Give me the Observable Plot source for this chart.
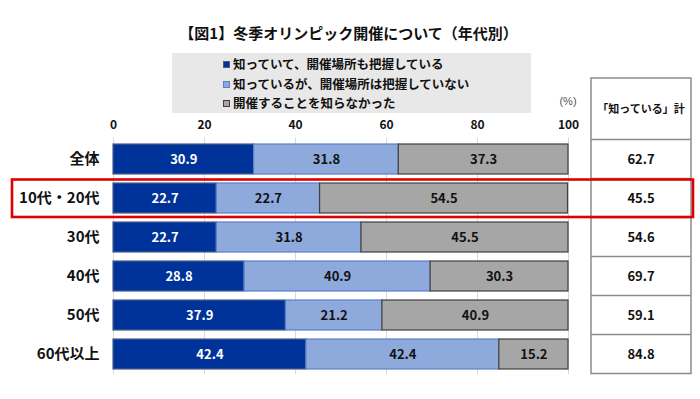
<!DOCTYPE html>
<html>
<head>
<meta charset="utf-8">
<script src="https://cdn.jsdelivr.net/npm/d3@7"></script>
<script src="https://cdn.jsdelivr.net/npm/@observablehq/plot@0.6"></script>
<style>
  html, body { margin: 0; padding: 0; background: #fff; }
  body { font-family: "Noto Sans CJK JP", "Noto Sans", sans-serif; }
  #wrap { position: relative; width: 700px; height: 399px; overflow: hidden; }
  #chart { position: absolute; left: 0; top: 0; }
  #title { position: absolute; left: 0; width: 697px; top: 22px; text-align: center; font-size: 15px; font-weight: bold; color: #111; line-height: 22px; }
  #legend { position: absolute; left: 172px; top: 53px; width: 359px; height: 60px; background: #E8E8E8; }
  .li { position: absolute; left: 51px; font-size: 12.5px; font-weight: bold; color: #111; line-height: 18px; white-space: nowrap; }
  .sw { display: inline-block; width: 7px; height: 7px; margin-right: 3px; vertical-align: 1px; box-sizing: border-box; border: 1px solid; }
  #pct { position: absolute; left: 553px; top: 95px; width: 30px; text-align: center; font-size: 11px; color: #555; font-family: "Liberation Sans", sans-serif; }
</style>
</head>
<body>
<div id="wrap">
  <div id="chart"></div>
  <div id="title"></div>
  <div id="legend"></div>
  <div id="pct">(%)</div>
</div>
<script>
// ---- data ----
const title = "【図1】冬季オリンピック開催について（年代別）";
const categories = ["全体", "10代・20代", "30代", "40代", "50代", "60代以上"];
const seriesNames = ["知っていて、開催場所も把握している", "知っているが、開催場所は把握していない", "開催することを知らなかった"];
const knowWithPlace = [30.9, 22.7, 22.7, 28.8, 37.9, 42.4];
const knowNoPlace = [31.8, 22.7, 31.8, 40.9, 21.2, 42.4];
const didNotKnow = [37.3, 54.5, 45.5, 30.3, 40.9, 15.2];
const knowTotal = [62.7, 45.5, 54.6, 69.7, 59.1, 84.8];
const totalHeader = "「知っている」計";
const highlighted = "10代・20代";
const xTicks = [0, 20, 40, 60, 80, 100];

// ---- styles ----
const fills = ["#003399", "#8EA9DB", "#A6A6A6"];
const strokes = ["#4a5d8a", "#5B7FC7", "#404040"];
const labelFills = ["#ffffff", "#111111", "#111111"];

const seriesValues = [knowWithPlace, knowNoPlace, didNotKnow];
const rows = [];
categories.forEach((c, i) => {
  seriesValues.forEach((vals, s) => {
    rows.push({cat: c, series: seriesNames[s], si: s, value: vals[i]});
  });
});

document.getElementById("title").textContent = title;
const legend = document.getElementById("legend");
seriesNames.forEach((n, i) => {
  const d = document.createElement("div");
  d.className = "li";
  d.style.top = (2 + i * 19.5) + "px";
  d.innerHTML = `<span class="sw" style="background:${fills[i]};border-color:${strokes[i]}"></span>${n}`;
  legend.appendChild(d);
});

const font = '"Noto Sans CJK JP", "Noto Sans", sans-serif';
const plot = Plot.plot({
  width: 700,
  height: 399,
  marginLeft: 113,
  marginRight: 132,
  marginTop: 137.6,
  marginBottom: 24.8,
  style: {fontFamily: font, background: "transparent"},
  x: {domain: [0, 100], ticks: xTicks},
  y: {domain: categories, paddingInner: 0.24, paddingOuter: 0.12},
  color: {type: "identity"},
  marks: [
    Plot.gridX(xTicks, {stroke: "#D9D9D9", strokeOpacity: 1}),
    Plot.barX(rows, Plot.stackX({
      x: "value", y: "cat", order: null,
      fill: d => fills[d.si], stroke: d => strokes[d.si], strokeWidth: 1.2
    })),
    Plot.text(rows, Plot.stackX({
      x: "value", y: "cat", order: null,
      text: d => d.value.toFixed(1), fill: d => labelFills[d.si],
      fontSize: 13, fontWeight: "bold"
    })),
    Plot.axisX({anchor: "top", ticks: xTicks, tickSize: 0, tickPadding: 9, fontSize: 12, fontWeight: "bold", label: null, fill: "#111"}),
    Plot.axisY({tickSize: 0, tickPadding: 14, fontSize: 15, fontWeight: "bold", label: null, fill: "#111"})
  ]
});
document.getElementById("chart").appendChild(plot);

// ---- side table & highlight, positioned from the plot's y scale ----
const y = plot.scale("y");
const step = y.step;
const svg = d3.select(plot);
const g = svg.append("g");
const tx1 = 591, tx2 = 691, tableTop = 78;
const firstTop = y.apply(categories[0]) + y.bandwidth / 2 - step / 2;
const lastBottom = y.apply(categories[categories.length - 1]) + y.bandwidth / 2 + step / 2;
g.append("rect").attr("x", tx1).attr("y", tableTop).attr("width", tx2 - tx1).attr("height", lastBottom - tableTop)
  .attr("fill", "#fff").attr("stroke", "#8c8c8c").attr("stroke-width", 1.5);
g.append("text").attr("x", (tx1 + tx2) / 2).attr("y", (tableTop + firstTop) / 2).attr("dy", "0.35em")
  .attr("text-anchor", "middle").attr("font-size", 11).attr("font-weight", "bold").attr("fill", "#111")
  .attr("font-family", font).text(totalHeader);
categories.forEach((c, i) => {
  const cy = y.apply(c) + y.bandwidth / 2;
  g.append("line").attr("x1", tx1).attr("x2", tx2).attr("y1", cy - step / 2).attr("y2", cy - step / 2)
    .attr("stroke", "#8c8c8c").attr("stroke-width", 1.5);
  g.append("text").attr("x", (tx1 + tx2) / 2).attr("y", cy).attr("dy", "0.35em")
    .attr("text-anchor", "middle").attr("font-size", 13).attr("font-weight", "bold").attr("fill", "#111")
    .attr("font-family", font).text(knowTotal[i].toFixed(1));
});
const hy = y.apply(highlighted) + y.bandwidth / 2;
g.append("rect").attr("x", 12).attr("y", hy - 18.5).attr("width", 681).attr("height", 37.5)
  .attr("fill", "none").attr("stroke", "#E00000").attr("stroke-width", 2.6);
</script>
</body>
</html>
